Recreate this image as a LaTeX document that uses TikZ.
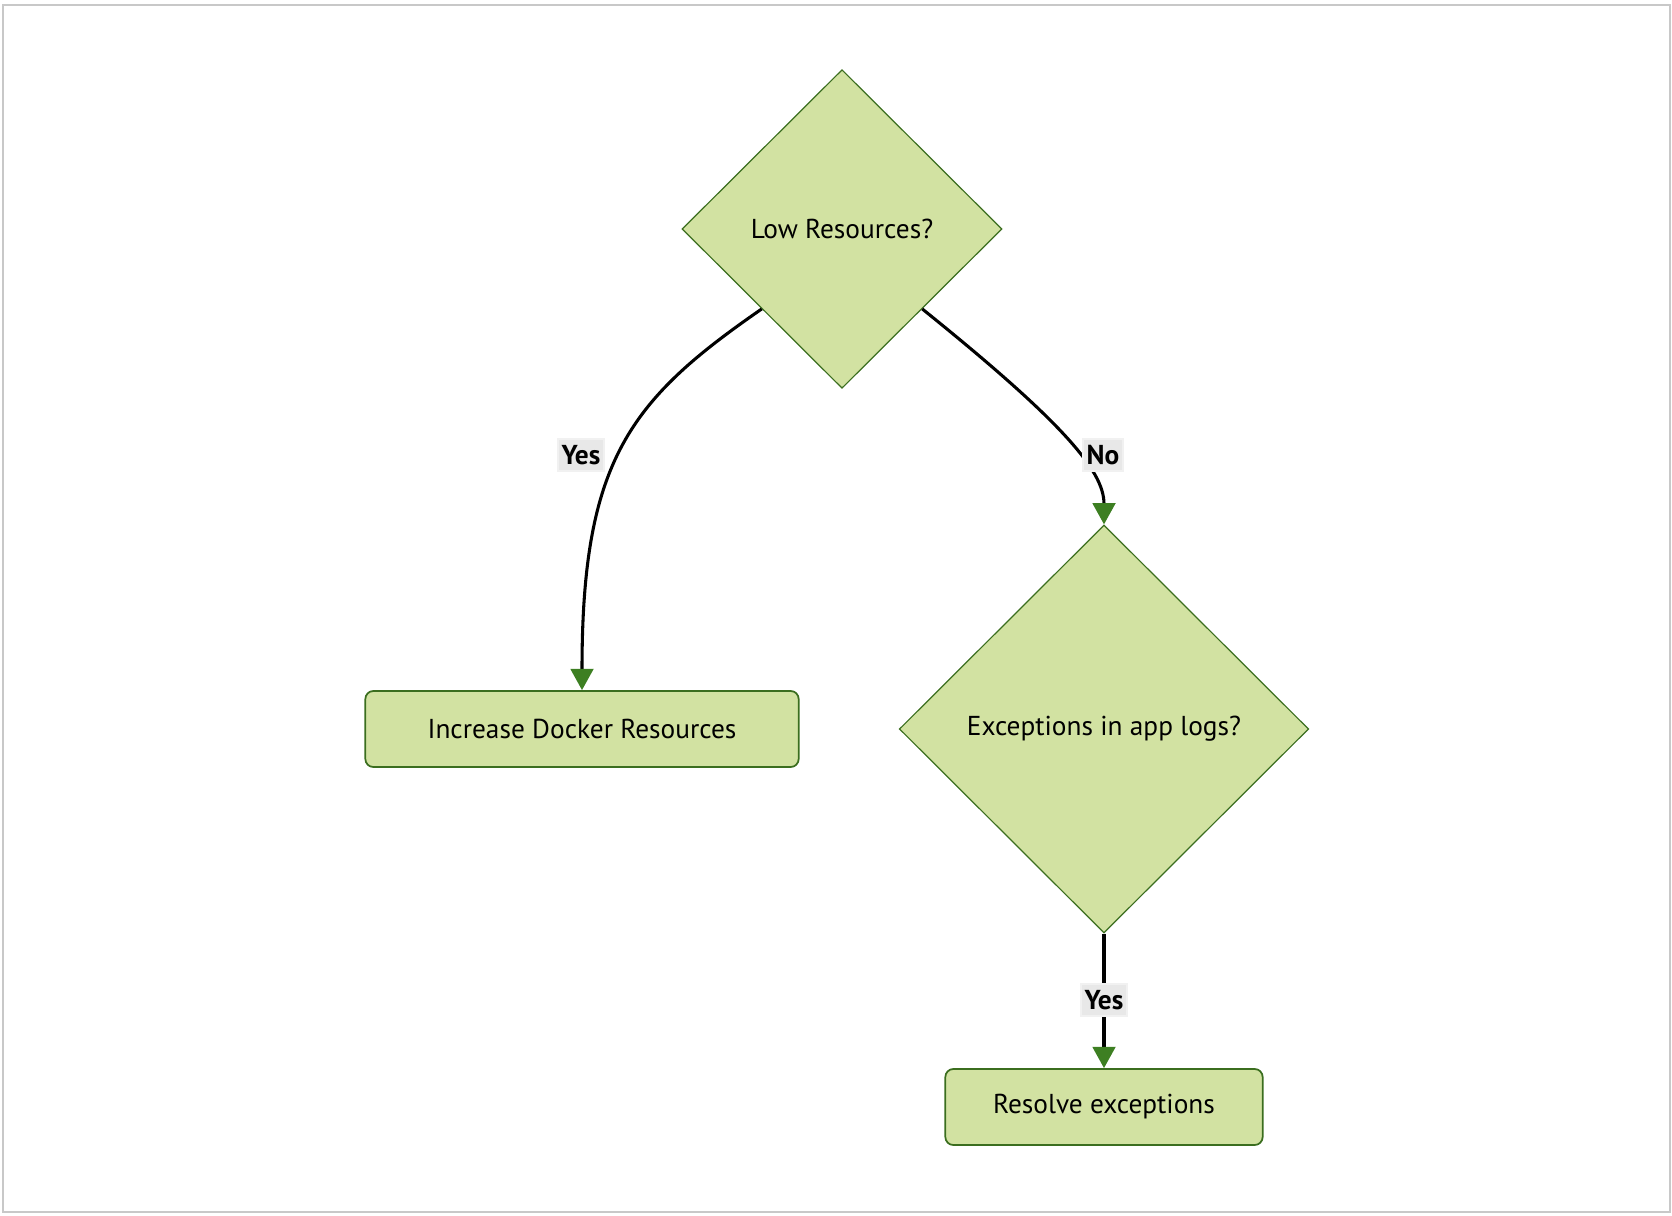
\documentclass[tikz,border=0pt]{standalone}
\usepackage{fontspec}
\setmainfont{PT Sans}
\usetikzlibrary{shapes.geometric}
\usetikzlibrary{arrows.meta}

\definecolor{nodefill}{HTML}{D2E2A2}
\definecolor{nodeline}{HTML}{3B6E1F}
\definecolor{tipgreen}{HTML}{3D7F22}
\definecolor{labelbg}{HTML}{E8E8E8}
\definecolor{labelrim}{HTML}{F1F1F1}
\definecolor{frame}{HTML}{C8C8C8}

\tikzset{
  decision/.style={diamond, draw=nodeline, fill=nodefill, line width=0.9pt,
    inner sep=0pt, font=\fontsize{20.5}{24}\selectfont},
  action/.style={rectangle, rounded corners=6pt, draw=nodeline, fill=nodefill,
    line width=1.3pt, minimum height=57pt, font=\fontsize{20.5}{24}\selectfont},
  flow/.style={line width=2.3pt, -{Triangle[color=tipgreen, length=16pt, width=17pt]}},
  answer/.style={fill=labelbg, draw=labelrim, line width=1.5pt, inner xsep=3pt,
    inner ysep=4.5pt, font=\bfseries\fontsize{20.5}{24}\selectfont}
}

\begin{document}
\begin{tikzpicture}[x=0.75pt, y=-0.75pt]
  \useasboundingbox (0,0) rectangle (1672,1216);
  \draw [frame, line width=1.5pt] (3,5) rectangle (1670,1212);

  \node [decision, minimum width=240pt, minimum height=239pt] at (842,229) (lowres) {Low Resources?};
  \node [action, minimum width=325pt] at (582,729) (docker) {Increase Docker Resources};
  \node [decision, minimum width=307pt, minimum height=306pt] at (1104,729) (logs) {Exceptions in app logs?};
  \node [action, minimum width=238pt] at (1104,1107) (resolve) {Resolve exceptions};

  \draw [flow] (lowres.south west) .. controls (630,400) and (582,460) .. (docker.north);
  \draw [flow] (lowres.south east) .. controls (1060,420) and (1104,470) .. (logs.north);
  \draw [flow] (logs.south) -- (resolve.north);

  % edge labels
  \node [answer] at (581,455) (yesdocker) {Yes};
  \node [answer] at (1103,455) (nologs) {No};
  \node [answer] at (1104,1000) (yesresolve) {Yes};
\end{tikzpicture}
\end{document}
